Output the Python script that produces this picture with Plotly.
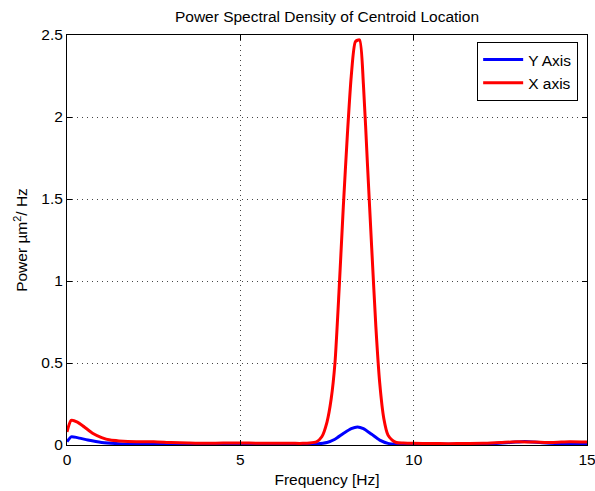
import plotly.graph_objects as go

freq_x = [0.0, 0.12, 0.3, 0.5, 0.75, 1.0, 1.25, 1.5, 2.0, 2.5, 3.0, 3.5, 4.0, 4.5, 5.0, 5.5, 6.0, 6.5, 6.8,
          7.0, 7.2, 7.35, 7.5, 7.62, 7.73, 7.85, 7.97, 8.09, 8.2, 8.32, 8.44, 8.55, 8.67, 8.79, 8.91, 9.02,
          9.14, 9.26, 9.38, 9.5, 9.7, 10.0, 10.5, 11.0, 11.5, 12.0, 12.5, 13.0, 13.5, 14.0, 14.5, 15.0]
power_x = [0.08, 0.15, 0.14, 0.11, 0.07, 0.045, 0.03, 0.025, 0.02, 0.02, 0.015, 0.012, 0.01, 0.012, 0.012, 0.011, 0.01, 0.01, 0.01,
           0.012, 0.02, 0.05, 0.14, 0.28, 0.5, 0.95, 1.45, 1.9, 2.25, 2.46, 2.47, 2.2, 1.7, 1.2, 0.72, 0.38,
           0.16, 0.06, 0.03, 0.015, 0.012, 0.01, 0.009, 0.008, 0.009, 0.01, 0.015, 0.02, 0.018, 0.015, 0.02, 0.018]

freq_y = [0.0, 0.12, 0.3, 0.6, 1.0, 1.5, 2.0, 3.0, 4.0, 5.0, 6.0, 7.0, 7.2, 7.5, 7.73, 7.97, 8.2, 8.38, 8.55,
          8.79, 9.02, 9.26, 9.5, 10.0, 11.0, 12.0, 12.8, 13.2, 13.7, 14.2, 14.6, 15.0]
power_y = [0.02, 0.05, 0.045, 0.03, 0.015, 0.008, 0.005, 0.004, 0.003, 0.003, 0.003, 0.004, 0.006, 0.015, 0.035, 0.07, 0.1, 0.11, 0.1,
           0.065, 0.03, 0.01, 0.005, 0.004, 0.004, 0.005, 0.015, 0.022, 0.014, 0.008, 0.006, 0.005]

x_ticks = [0, 5, 10, 15]
y_ticks = [0, 0.5, 1, 1.5, 2, 2.5]
y_tick_text = ["0", "0.5", "1", "1.5", "2", "2.5"]

FONT = "Liberation Sans, Arial"
FS = 15.5

fig = go.Figure()
fig.add_trace(go.Scatter(x=freq_y, y=power_y, mode="lines", name="Y Axis",
                         line=dict(color="#0000ff", width=3, shape="spline", smoothing=0.6)))
fig.add_trace(go.Scatter(x=freq_x, y=power_x, mode="lines", name="X axis",
                         line=dict(color="#ff0000", width=3, shape="spline", smoothing=0.6)))

axis_common = dict(showline=True, linecolor="black", linewidth=1, mirror="ticks",
                   ticks="inside", ticklen=5, tickcolor="black", automargin=False,
                   ticklabeloverflow="allow",
                   showgrid=True, gridcolor="#444444", griddash="1px,4px", gridwidth=1,
                   zeroline=False, tickfont=dict(family=FONT, size=FS, color="black"))

fig.update_layout(
    width=595, height=491,
    margin=dict(l=67, r=8, t=35, b=46),
    paper_bgcolor="white", plot_bgcolor="white",
    title=dict(text="Power Spectral Density of Centroid Location", x=0.5, xanchor="center",
               xref="paper", y=1 - 17 / 491, yref="container", yanchor="middle",
               font=dict(family=FONT, size=FS, color="black")),
    xaxis=dict(range=[0, 15], tickvals=x_ticks,
               title=dict(text="Frequency [Hz]", standoff=7,
                          font=dict(family=FONT, size=FS, color="black")),
               **axis_common),
    yaxis=dict(range=[0, 2.5], tickvals=y_ticks, ticktext=y_tick_text,
               title=dict(text="Power \u00b5m<sup>2</sup>/ Hz", standoff=9,
                          font=dict(family=FONT, size=FS, color="black")),
               **axis_common),
    legend=dict(x=0.983, y=0.983, xanchor="right", yanchor="top",
                bgcolor="white", bordercolor="black", borderwidth=1,
                font=dict(family=FONT, size=FS, color="black"),
                tracegroupgap=0, itemwidth=40),
    showlegend=True,
)

fig.write_html("out.html", config={"displayModeBar": False},
               post_script="document.body.style.margin='0';document.body.style.overflow='hidden';")
